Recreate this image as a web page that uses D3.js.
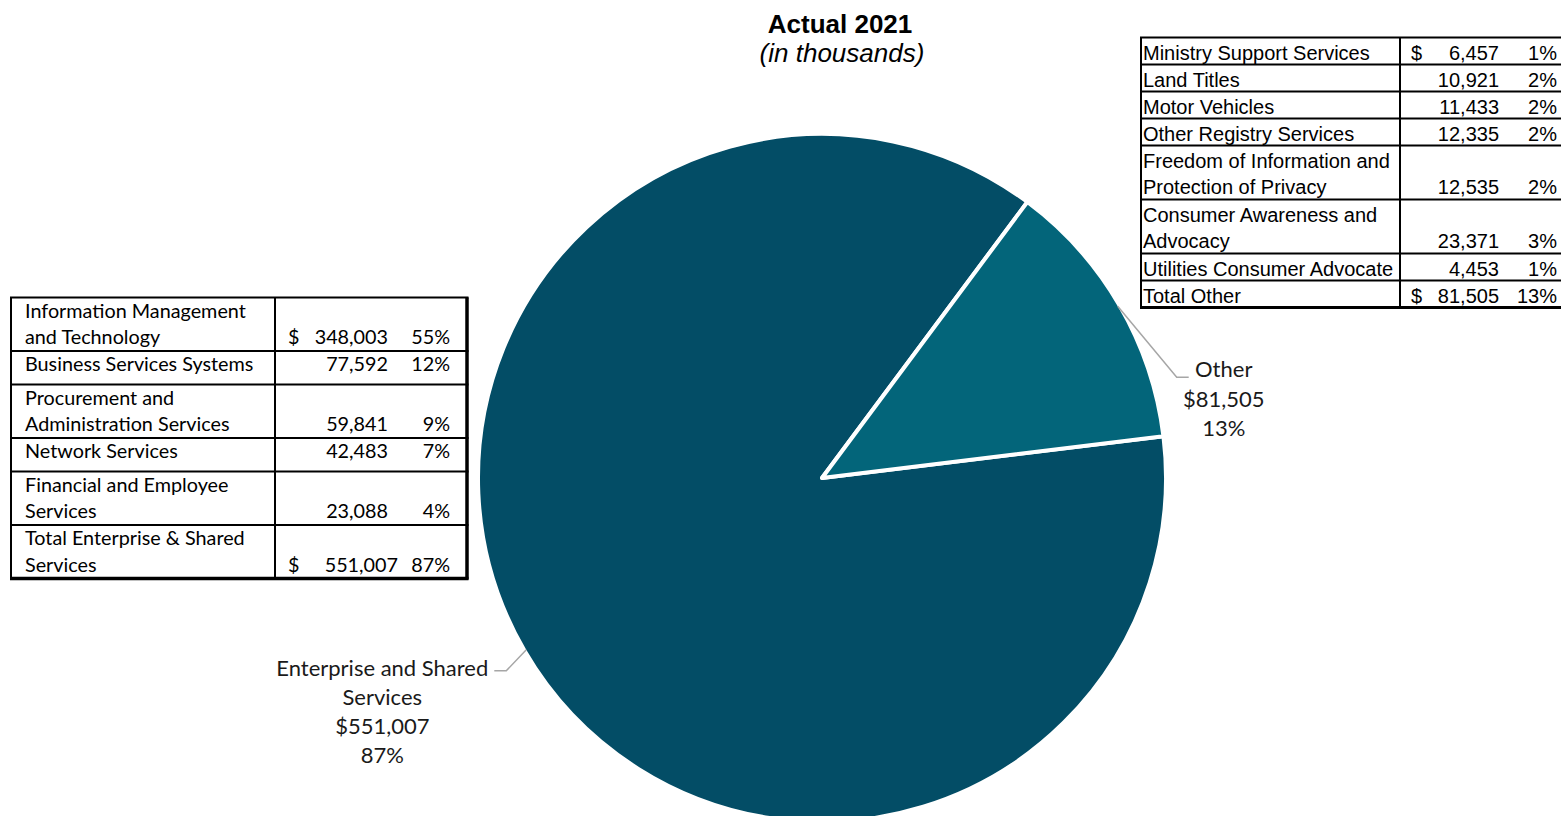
<!DOCTYPE html>
<html>
<head>
<meta charset="utf-8">
<script src="https://cdn.jsdelivr.net/npm/d3@7"></script>
<style>
  html, body { margin: 0; padding: 0; background: #fff; overflow: hidden; }
  svg { display: block; }
</style>
</head>
<body>
<svg id="chart" width="1561" height="816"></svg>
<script>
// ---- Data (in thousands of dollars) ----
const titleText = "Actual 2021";
const subtitleText = "(in thousands)";

// Enterprise and Shared Services components
const enterpriseLabels = [
  ["Information Management", "and Technology"],
  ["Business Services Systems"],
  ["Procurement and", "Administration Services"],
  ["Network Services"],
  ["Financial and Employee", "Services"]
];
const enterpriseValues = [348003, 77592, 59841, 42483, 23088];
const enterprisePct = [55, 12, 9, 7, 4];
const enterpriseTotalLabel = ["Total Enterprise & Shared", "Services"];
const enterpriseTotalPct = 87;

// Other program components
const otherLabels = [
  ["Ministry Support Services"],
  ["Land Titles"],
  ["Motor Vehicles"],
  ["Other Registry Services"],
  ["Freedom of Information and", "Protection of Privacy"],
  ["Consumer Awareness and", "Advocacy"],
  ["Utilities Consumer Advocate"]
];
const otherValues = [6457, 10921, 11433, 12335, 12535, 23371, 4453];
const otherPct = [1, 2, 2, 2, 2, 3, 1];
const otherTotalLabel = ["Total Other"];
const otherTotalPct = 13;

// Pie slices
const sliceNames = [["Enterprise and Shared", "Services"], ["Other"]];
const sliceValues = [d3.sum(enterpriseValues), d3.sum(otherValues)];
const slicePct = [enterpriseTotalPct, otherTotalPct];
const sliceColors = ["#034d66", "#03657a"];

// ---- Drawing ----
const svg = d3.select("#chart");
const fmt = d3.format(",");

// Title
svg.append("text")
  .attr("x", 840).attr("y", 33)
  .attr("text-anchor", "middle")
  .style("font-family", "'Liberation Sans', Arial, sans-serif")
  .style("font-weight", "bold").style("font-size", "26px")
  .attr("fill", "#000")
  .text(titleText);
svg.append("text")
  .attr("x", 842).attr("y", 62)
  .attr("text-anchor", "middle")
  .style("font-family", "'Liberation Sans', Arial, sans-serif")
  .style("font-style", "italic").style("font-size", "26px")
  .attr("fill", "#000")
  .text(subtitleText);

// Pie
const cx = 822, cy = 478, R = 344;
const startAngle = 1.4493;
const slices = sliceValues.map((v, i) => ({ value: v, name: sliceNames[i], pct: slicePct[i], color: sliceColors[i] }));
const pie = d3.pie().sort(null).value(d => d.value)
  .startAngle(startAngle).endAngle(startAngle + 2 * Math.PI);
const arc = d3.arc().innerRadius(0).outerRadius(R);
const edgeArc = d3.arc().innerRadius(R - 2).outerRadius(R - 2);

const pg = svg.append("g").attr("transform", `translate(${cx},${cy})`);
const arcs = pie(slices);
pg.selectAll("path.slice").data(arcs).join("path")
  .attr("class", "slice")
  .attr("d", arc)
  .attr("fill", d => d.data.color)
  .attr("stroke", "#fff")
  .attr("stroke-width", 4)
  .attr("stroke-linejoin", "round");

// Leader lines and slice labels
const labelLayout = [
  { elbow: [-20, 21], tail: -12, anchor: [-112, 2], lines: 29 },   // Enterprise
  { elbow: [59, 71], tail: 12, anchor: [35, -3], lines: 29.5 }     // Other
];
const labelFont = "Lato, 'Noto Sans', sans-serif";
arcs.forEach((a, i) => {
  const lay = labelLayout[i];
  const mid = (a.startAngle + a.endAngle) / 2;
  const [ex, ey] = edgeArc.centroid({ startAngle: mid, endAngle: mid });
  const bx = ex + lay.elbow[0], by = ey + lay.elbow[1];
  const tx = bx + lay.tail;
  pg.append("path")
    .attr("d", `M${ex},${ey}L${bx},${by}L${tx},${by}`)
    .attr("fill", "none")
    .attr("stroke", "#a6a6a6")
    .attr("stroke-width", 1.5);
  const lines = a.data.name.concat(["$" + fmt(a.data.value), a.data.pct + "%"]);
  const lx = tx + lay.anchor[0];
  const ly0 = by + lay.anchor[1] + 3;
  const t = pg.append("text")
    .attr("text-anchor", "middle")
    .style("font-family", labelFont)
    .style("font-size", "22px")
    .attr("fill", "#1a1a1a");
  lines.forEach((s, k) => {
    t.append("tspan").attr("x", lx).attr("y", ly0 + k * lay.lines).text(s);
  });
});

// ---- Tables ----
function drawTable(cfg) {
  const g = svg.append("g");
  const rows = cfg.labels.map((l, i) => ({ label: l, value: cfg.values[i], pct: cfg.pct[i], dollar: i === 0, total: false }));
  rows.push({ label: cfg.totalLabel, value: d3.sum(cfg.values), pct: cfg.totalPct, dollar: true, total: true });
  let y = cfg.top;
  const lineYs = [y];
  rows.forEach(r => {
    const h = r.label.length === 2 ? cfg.h2 : cfg.h1;
    r.top = y;
    y += h;
    lineYs.push(y);
  });
  // text
  rows.forEach(r => {
    r.label.forEach((s, k) => {
      g.append("text")
        .attr("x", cfg.xLabel).attr("y", r.top + cfg.base + k * cfg.lineGap)
        .style("font-family", cfg.font).style("font-size", cfg.size)
        .attr("fill", "#000").text(s);
    });
    const yb = r.top + cfg.base + (r.label.length - 1) * cfg.lineGap;
    if (r.dollar) {
      g.append("text").attr("x", cfg.xDollar).attr("y", yb)
        .style("font-family", cfg.font).style("font-size", cfg.size)
        .attr("fill", "#000").text("$");
    }
    g.append("text").attr("x", r.total ? cfg.xValueTotal : cfg.xValue).attr("y", yb)
      .attr("text-anchor", "end")
      .style("font-family", cfg.font).style("font-size", cfg.size)
      .attr("fill", "#000").text(fmt(r.value));
    g.append("text").attr("x", cfg.xPct).attr("y", yb)
      .attr("text-anchor", "end")
      .style("font-family", cfg.font).style("font-size", cfg.size)
      .attr("fill", "#000").text(r.pct + "%");
  });
  // grid lines
  lineYs.forEach((ly, i) => {
    const w = (i === 0) ? cfg.topW : (i === lineYs.length - 1 ? cfg.bottomW : cfg.innerW);
    g.append("line").attr("x1", cfg.left - 1).attr("x2", cfg.right + 1.5)
      .attr("y1", ly).attr("y2", ly).attr("stroke", "#000").attr("stroke-width", w);
  });
  const top = lineYs[0], bottom = lineYs[lineYs.length - 1];
  g.append("line").attr("x1", cfg.left).attr("x2", cfg.left).attr("y1", top).attr("y2", bottom)
    .attr("stroke", "#000").attr("stroke-width", cfg.leftW);
  g.append("line").attr("x1", cfg.divider).attr("x2", cfg.divider).attr("y1", top).attr("y2", bottom)
    .attr("stroke", "#000").attr("stroke-width", 2);
  g.append("line").attr("x1", cfg.right).attr("x2", cfg.right).attr("y1", top).attr("y2", bottom + 1)
    .attr("stroke", "#000").attr("stroke-width", cfg.rightW);
}

drawTable({
  labels: enterpriseLabels, values: enterpriseValues, pct: enterprisePct,
  totalLabel: enterpriseTotalLabel, totalPct: enterpriseTotalPct,
  top: 297.5, h1: 33.5, h2: 53.5, base: 20, lineGap: 26.5,
  left: 11, right: 467, divider: 275,
  xLabel: 25, xDollar: 288, xValue: 388, xValueTotal: 398, xPct: 450,
  font: "Lato, 'Noto Sans', sans-serif", size: "19.8px",
  topW: 2, bottomW: 3.5, innerW: 2, leftW: 2, rightW: 3.5
});

drawTable({
  labels: otherLabels, values: otherValues, pct: otherPct,
  totalLabel: otherTotalLabel, totalPct: otherTotalPct,
  top: 37.5, h1: 27, h2: 54, base: 22, lineGap: 26,
  left: 1141, right: 1563, divider: 1400,
  xLabel: 1143, xDollar: 1411, xValue: 1499, xValueTotal: 1499, xPct: 1557,
  font: "'Liberation Sans', Arial, sans-serif", size: "20px",
  topW: 2, bottomW: 3, innerW: 2, leftW: 2, rightW: 2
});
</script>
</body>
</html>
